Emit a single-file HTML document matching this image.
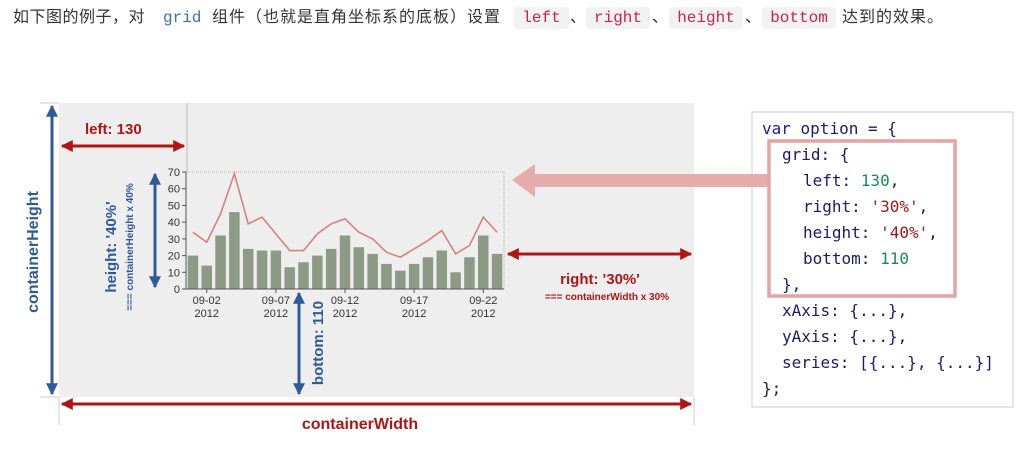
<!DOCTYPE html>
<html><head><meta charset="utf-8"><style>
body{margin:0;width:1027px;height:470px;background:#fff;position:relative;overflow:hidden;font-family:"Liberation Sans","Noto Sans CJK SC",sans-serif}
.t{position:absolute;top:7px;font-size:16px;color:#333;white-space:nowrap;line-height:22px}
.c{position:absolute;top:7px;height:22px;background:#f2f2f2;border-radius:4px;color:#c7254e;font-family:"Liberation Mono",monospace;font-size:16px;line-height:22px;text-align:center}
</style></head><body>
<div class="t" style="left:13px;letter-spacing:0.5px">如下图的例子，对</div>
<div class="t" style="left:163px;color:#3a6fb0;font-family:'Liberation Mono',monospace">grid</div>
<div class="t" style="left:212px;letter-spacing:1px">组件（也就是直角坐标系的底板）设置</div>
<div class="c" style="left:514px;width:55px">left</div>
<div class="t" style="left:570px">、</div>
<div class="c" style="left:586px;width:64px">right</div>
<div class="t" style="left:652px">、</div>
<div class="c" style="left:669px;width:74px">height</div>
<div class="t" style="left:745px">、</div>
<div class="c" style="left:762px;width:74px">bottom</div>
<div class="t" style="left:842px;letter-spacing:1px">达到的效果。</div>

<svg id="svg" width="1027" height="470" style="position:absolute;left:0;top:0">
<defs>
<marker id="rh" viewBox="0 0 10 10" refX="9" refY="5" markerWidth="4" markerHeight="4" orient="auto-start-reverse"><path d="M0,0L10,5L0,10z" fill="#b01515"/></marker>
<marker id="bh" viewBox="0 0 10 10" refX="9" refY="5" markerWidth="4" markerHeight="4" orient="auto-start-reverse"><path d="M0,0L10,5L0,10z" fill="#2f5a9a"/></marker>
</defs>
<rect x="59" y="103" width="635" height="294" fill="#eeeeee"/>
<line x1="187" y1="103" x2="187" y2="172" stroke="#bbb" stroke-width="1"/>
<line x1="59" y1="397" x2="59" y2="425" stroke="#ccc"/>
<line x1="694" y1="397" x2="694" y2="425" stroke="#ccc"/>
<line x1="40" y1="103" x2="59" y2="103" stroke="#ccc"/>
<line x1="40" y1="397" x2="59" y2="397" stroke="#ccc"/>
<g id="chart"></g>
<line x1="62" y1="146" x2="184" y2="146" stroke="#b01515" stroke-width="3" marker-start="url(#rh)" marker-end="url(#rh)"/>
<text x="85" y="134" font-size="15" font-weight="bold" fill="#b01515">left: 130</text>
<line x1="52" y1="106" x2="52" y2="394" stroke="#2f5a9a" stroke-width="3" marker-start="url(#bh)" marker-end="url(#bh)"/>
<text transform="translate(38,252) rotate(-90)" text-anchor="middle" font-size="16" font-weight="bold" fill="#2f5a9a">containerHeight</text>
<line x1="62" y1="404" x2="691" y2="404" stroke="#b01515" stroke-width="3" marker-start="url(#rh)" marker-end="url(#rh)"/>
<text x="360" y="429" text-anchor="middle" font-size="16" font-weight="bold" fill="#b01515">containerWidth</text>
<line x1="155" y1="174" x2="155" y2="287" stroke="#2f5a9a" stroke-width="3" marker-start="url(#bh)" marker-end="url(#bh)"/>
<text transform="translate(116,247) rotate(-90)" text-anchor="middle" font-size="15" font-weight="bold" fill="#2f5a9a">height: '40%'</text>
<text transform="translate(133,247) rotate(-90)" text-anchor="middle" font-size="10" font-weight="bold" fill="#2f5a9a">=== containerHeight x 40%</text>
<line x1="299" y1="293" x2="299" y2="394" stroke="#2f5a9a" stroke-width="3" marker-start="url(#bh)" marker-end="url(#bh)"/>
<text transform="translate(323,343) rotate(-90)" text-anchor="middle" font-size="15" font-weight="bold" fill="#2f5a9a">bottom: 110</text>
<line x1="508" y1="254" x2="691" y2="254" stroke="#b01515" stroke-width="3" marker-start="url(#rh)" marker-end="url(#rh)"/>
<text x="600" y="284" text-anchor="middle" font-size="15" font-weight="bold" fill="#b01515">right: '30%'</text>
<text x="607" y="300" text-anchor="middle" font-size="10" font-weight="bold" fill="#b01515">=== containerWidth x 30%</text>
<rect x="752" y="112" width="261" height="295" fill="#fff" stroke="#ccc"/>
<path d="M768,174 L535,174 L535,164 L512,180 L535,197 L535,187 L768,187 Z" fill="#e4a4a4" opacity="0.9"/>
<rect x="769" y="141" width="186" height="155" fill="none" stroke="#e4a4a4" stroke-width="3.5"/>
<g font-family="'DejaVu Sans Mono','Liberation Mono',monospace" font-size="16" fill="#1a1a6e">
<text x="762" y="134"><tspan fill="#1a1a9a">var</tspan> option = {</text>
<text x="782" y="160">grid: {</text>
<text x="803" y="186">left: <tspan fill="#1a8a5a">130</tspan>,</text>
<text x="803" y="212">right: <tspan fill="#a01818">'30%'</tspan>,</text>
<text x="803" y="238">height: <tspan fill="#a01818">'40%'</tspan>,</text>
<text x="803" y="264">bottom: <tspan fill="#1a8a5a">110</tspan></text>
<text x="782" y="290">},</text>
<text x="782" y="316">xAxis: {...},</text>
<text x="782" y="342">yAxis: {...},</text>
<text x="782" y="368">series: [{...}, {...}]</text>
<text x="762" y="394" fill="#222">};</text>
</g>
</svg>
<script>
const barValues=[20,14,32,46,24,23,23,13,16,20,24,32,25,21,15,11,15,19,23,10,19,32,21];
const lineValues=[34,28,45,69,39,43,33,23,23,33,39,42,34,30,22,19,24,29,35,21,26,43,34];
const yTicks=[0,10,20,30,40,50,60,70];
const xLabelIdx=[1,6,11,16,21];
const xLabels=["09-02","09-07","09-12","09-17","09-22"];
const NS="http://www.w3.org/2000/svg";
const g=document.getElementById('chart');
const x0=186,x1=504,y0=289,y1=172,ymax=70;
const bw=(x1-x0)/barValues.length;
const X=i=>x0+bw*(i+0.5);
const Y=v=>y0-(y0-y1)*v/ymax;
function mk(t,a){const e=document.createElementNS(NS,t);for(const k in a)e.setAttribute(k,a[k]);g.appendChild(e);return e;}
const frame=mk('rect',{x:x0,y:y1,width:x1-x0,height:y0-y1,fill:'none',stroke:'#aaa','stroke-dasharray':'1,1','stroke-width':0.8});


barValues.forEach((v,i)=>{
 const r=mk('rect',{x:X(i)-bw*0.38,y:Y(v),width:bw*0.76,height:y0-Y(v),fill:'#8d9a85'});
 
 
});
const pl=mk('polyline',{points:lineValues.map((v,i)=>X(i)+','+Y(v)).join(' '),fill:'none',stroke:'#d98080','stroke-width':1.6});


const ax=mk('line',{x1:x0,y1:y0,x2:x1,y2:y0,stroke:'#555','stroke-width':1});


const ay=mk('line',{x1:x0,y1:y1,x2:x0,y2:y0,stroke:'#555','stroke-width':1});


yTicks.forEach(v=>{
 mk('line',{x1:x0-4,y1:Y(v),x2:x0,y2:Y(v),stroke:'#555'});
 const t=mk('text',{x:x0-6,y:Y(v)+4,'text-anchor':'end','font-size':11,fill:'#333'});
 t.textContent=v;
 
 
});
xLabelIdx.forEach((idx,k)=>{
 mk('line',{x1:X(idx),y1:y0,x2:X(idx),y2:y0+4,stroke:'#555'});
 const t=mk('text',{x:X(idx),y:y0+15,'text-anchor':'middle','font-size':11,fill:'#333'});
 t.textContent=xLabels[k];
 
 
 const t2=mk('text',{x:X(idx),y:y0+28,'text-anchor':'middle','font-size':11,fill:'#333'});
 t2.textContent='2012';
 
 
});
</script>
</body></html>
